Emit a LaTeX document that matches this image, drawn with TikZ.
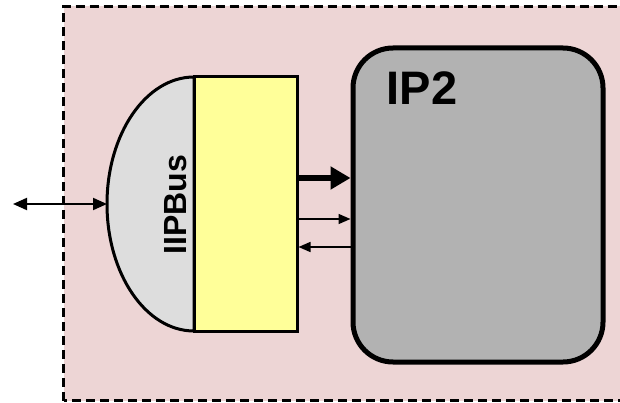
\documentclass[tikz,border=0pt]{standalone}
\usepackage{fontspec}
\setmainfont{Liberation Sans}
\usetikzlibrary{arrows.meta}
\definecolor{bgpink}{RGB}{237,213,213}
\definecolor{ylw}{RGB}{255,255,153}
\definecolor{busgray}{RGB}{221,221,221}
\definecolor{ipgray}{RGB}{178,178,178}
\tikzset{
  thinarrow/.style={line width=1.5pt,-{Triangle[length=12pt,width=10pt]}},
  thickarrow/.style={line width=5pt,-{Triangle[length=20pt,width=22pt]}},
}
\begin{document}
\begin{tikzpicture}[x=1pt,y=1pt]
\useasboundingbox (0,0) rectangle (620,402);
% outer dashed region
\draw[fill=bgpink,line width=2.5pt,dash pattern=on 9pt off 5pt] (63.5,1.5) rectangle (630,395.5);
% bus half-ellipse
\draw[fill=busgray,line width=3pt] (194,325) arc[start angle=90,end angle=270,x radius=87,y radius=127] -- cycle;
\coordinate (busL) at (107,198);
\coordinate (ext) at (13,198);
\node[rotate=90,font=\fontsize{32}{32}\selectfont\bfseries] (bus) at (176,197) {IIPBus};
% yellow block
\node[draw,line width=3pt,fill=ylw,minimum width=103pt,minimum height=254pt,inner sep=0pt] (yel) at (245.5,198) {};
% IP2 block
\node[draw,line width=5pt,fill=ipgray,rounded corners=40pt,minimum width=250pt,minimum height=314pt,inner sep=0pt] (ip2) at (478,197) {};
\node[font=\fontsize{47}{47}\selectfont\bfseries] (ip2t) at (422,314) {IP2};
% connectors
\draw[thickarrow] ([yshift=26pt]yel.east) -- ([yshift=27pt]ip2.west);
\draw[thinarrow] ([yshift=-15pt]yel.east) -- ([yshift=-14pt]ip2.west);
\draw[thinarrow] ([yshift=-42pt]ip2.west) -- ([yshift=-43pt]yel.east);
\draw[line width=2pt,{Triangle[length=14pt,width=12pt]}-{Triangle[length=14pt,width=12pt]}] (ext) -- (busL);
\end{tikzpicture}
\end{document}
